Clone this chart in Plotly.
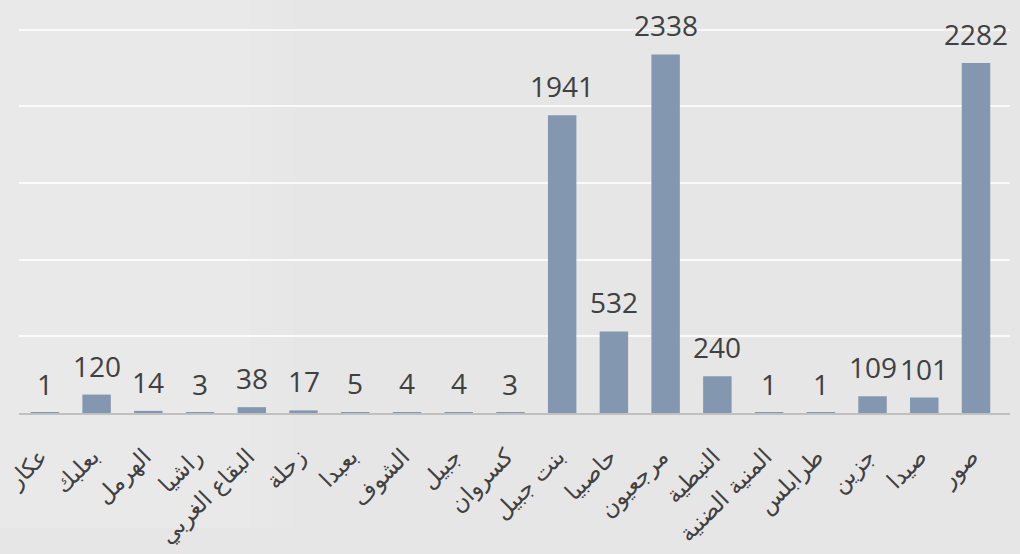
import plotly.graph_objects as go

categories = ["عكار", "بعلبك", "الهرمل", "راشيا", "البقاع الغربي", "زحلة", "بعبدا",
              "الشوف", "جبيل", "كسروان", "بنت جبيل", "حاصبيا", "مرجعيون", "النبطية",
              "المنية الضنية", "طرابلس", "جزين", "صيدا", "صور"]
values = [1, 120, 14, 3, 38, 17, 5, 4, 4, 3, 1941, 532, 2338, 240, 1, 1, 109, 101, 2282]

BAR = "#8497B0"
TXT = "#404040"

fig = go.Figure()
fig.add_trace(go.Bar(x=categories, y=values, marker=dict(color=BAR, line=dict(width=0)),
                     width=0.55, hoverinfo="x+y"))

for c, v in zip(categories, values):
    fig.add_annotation(x=c, y=v, text=str(v), showarrow=False, yanchor="bottom",
                       yshift=8, font=dict(size=28, color=TXT,
                                           family="Open Sans, Liberation Sans, sans-serif"))

# soft lighter wash on the left of the background (decorative)
for i in range(10):
    fig.add_shape(type="rect", xref="paper", yref="paper", layer="below",
                  x0=-0.05, x1=0.08 + 0.022 * i, y0=-0.3, y1=1.1,
                  fillcolor="rgba(255,255,255,0.045)", line=dict(width=0))

fig.update_layout(
    width=1020, height=554,
    margin=dict(l=19, r=10, t=28, b=141, autoexpand=False),
    paper_bgcolor="#e6e6e6",
    plot_bgcolor="rgba(0,0,0,0)",
    showlegend=False,
    xaxis=dict(type="category", tickangle=-45, showline=True, linecolor="#c0c0c0",
               linewidth=2, ticks="", showgrid=False, ticklabelstandoff=19,
               ticklabelshift=-4, automargin=False,
               tickfont=dict(size=23, color=TXT, family="DejaVu Sans, sans-serif")),
    yaxis=dict(range=[0, 2510], tickvals=[500, 1000, 1500, 2000, 2500],
               showticklabels=False, showgrid=True, automargin=False,
               gridcolor="rgba(255,255,255,0.8)", gridwidth=1.5, zeroline=False,
               fixedrange=True),
)

fig.write_html("out.html", config={"displayModeBar": False},
               post_script="document.body.style.margin='0';"
               "document.body.style.background='#e6e6e6';")
